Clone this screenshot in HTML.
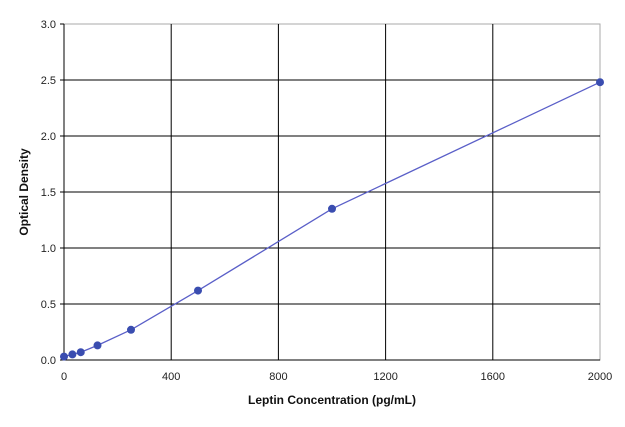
<!DOCTYPE html>
<html><head><meta charset="utf-8"><style>
html,body{margin:0;padding:0;background:#fff;}
text{font-family:"Liberation Sans",Arial,sans-serif;}
</style></head><body>
<svg width="625" height="422" viewBox="0 0 625 422" xmlns="http://www.w3.org/2000/svg">
<rect width="625" height="422" fill="#fff"/>
<rect x="64" y="24" width="536" height="336" fill="none" stroke="#aaa" stroke-width="1"/>
<g stroke="#000" stroke-width="1">
<line x1="64" y1="304" x2="600" y2="304"/>
<line x1="64" y1="248" x2="600" y2="248"/>
<line x1="64" y1="192" x2="600" y2="192"/>
<line x1="64" y1="136" x2="600" y2="136"/>
<line x1="64" y1="80" x2="600" y2="80"/>
<line x1="171.2" y1="24" x2="171.2" y2="360"/>
<line x1="278.4" y1="24" x2="278.4" y2="360"/>
<line x1="385.6" y1="24" x2="385.6" y2="360"/>
<line x1="492.8" y1="24" x2="492.8" y2="360"/>
<line x1="64" y1="24" x2="64" y2="360"/>
<line x1="64" y1="360" x2="600" y2="360"/>
<line x1="60" y1="360" x2="64" y2="360"/><line x1="60" y1="304" x2="64" y2="304"/>
<line x1="60" y1="248" x2="64" y2="248"/><line x1="60" y1="192" x2="64" y2="192"/>
<line x1="60" y1="136" x2="64" y2="136"/><line x1="60" y1="80" x2="64" y2="80"/>
<line x1="60" y1="24" x2="64" y2="24"/>
</g>
<g font-size="11" fill="#222" text-anchor="end">
<text x="56" y="364">0.0</text><text x="56" y="308">0.5</text><text x="56" y="252">1.0</text>
<text x="56" y="196">1.5</text><text x="56" y="140">2.0</text><text x="56" y="84">2.5</text>
<text x="56" y="28">3.0</text>
</g>
<g font-size="11" fill="#222" text-anchor="middle">
<text x="64" y="380">0</text><text x="171.2" y="380">400</text><text x="278.4" y="380">800</text>
<text x="385.6" y="380">1200</text><text x="492.8" y="380">1600</text><text x="600" y="380">2000</text>
</g>
<text x="332" y="404" font-size="12" font-weight="bold" text-anchor="middle" fill="#111">Leptin Concentration (pg/mL)</text>
<text transform="translate(28,192) rotate(-90)" font-size="12" font-weight="bold" text-anchor="middle" fill="#111">Optical Density</text>
<polyline fill="none" stroke="#5a5fc8" stroke-width="1.3" points="64,356.6 72.4,354.4 80.75,352.2 97.5,345.4 131,329.8 198,290.6 332,208.8 600,82.2"/>
<g fill="#3a4db0">
<circle cx="64" cy="356.6" r="4"/><circle cx="72.4" cy="354.4" r="4"/><circle cx="80.75" cy="352.2" r="4"/>
<circle cx="97.5" cy="345.4" r="4"/><circle cx="131" cy="329.8" r="4"/><circle cx="198" cy="290.6" r="4"/>
<circle cx="332" cy="208.8" r="4"/><circle cx="600" cy="82.2" r="4"/>
</g>
</svg>
</body></html>
